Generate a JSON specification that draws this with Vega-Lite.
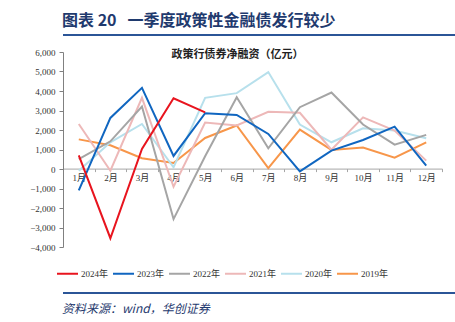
{
  "$schema": "https://vega.github.io/schema/vega-lite/v6.json",
  "padding": {"left": 29, "top": 13, "right": 8, "bottom": 0},
  "background": "white",
  "config": {"view": {"stroke": null}, "font": "Liberation Serif"},
  "align": "none",
  "spacing": 12,
  "resolve": {"scale": {"color": "independent", "x": "independent", "y": "independent"}},
  "vconcat": [
    {
      "width": 414,
      "height": 2,
      "data": {"values": [{}]},
      "title": {"text": "图表\u00a020\u00a0\u00a0\u00a0一季度政策性金融债发行较少", "anchor": "start", "font": "Noto Sans CJK SC", "fontSize": 16, "fontWeight": "bold", "color": "#1F3A6E", "offset": 4},
      "mark": {"type": "rule", "color": "#2B5597", "strokeWidth": 2},
      "encoding": {"y": {"datum": 0, "type": "quantitative", "scale": {"domain": [0, 1]}, "axis": null}}
    },
    {
      "width": 379,
      "height": 195,
      "data": {"values": [
        {"年份": "2019年", "月份": "1月", "值": 1520},
        {"年份": "2019年", "月份": "2月", "值": 1220},
        {"年份": "2019年", "月份": "3月", "值": 550},
        {"年份": "2019年", "月份": "4月", "值": 310},
        {"年份": "2019年", "月份": "5月", "值": 1590},
        {"年份": "2019年", "月份": "6月", "值": 2230},
        {"年份": "2019年", "月份": "7月", "值": 50},
        {"年份": "2019年", "月份": "8月", "值": 2020},
        {"年份": "2019年", "月份": "9月", "值": 980},
        {"年份": "2019年", "月份": "10月", "值": 1100},
        {"年份": "2019年", "月份": "11月", "值": 580},
        {"年份": "2019年", "月份": "12月", "值": 1370},
        {"年份": "2020年", "月份": "1月", "值": -90},
        {"年份": "2020年", "月份": "2月", "值": 1370},
        {"年份": "2020年", "月份": "3月", "值": 2310},
        {"年份": "2020年", "月份": "4月", "值": 90},
        {"年份": "2020年", "月份": "5月", "值": 3650},
        {"年份": "2020年", "月份": "6月", "值": 3890},
        {"年份": "2020年", "月份": "7月", "值": 4970},
        {"年份": "2020年", "月份": "8月", "值": 2280},
        {"年份": "2020年", "月份": "9月", "值": 1370},
        {"年份": "2020年", "月份": "10月", "值": 2090},
        {"年份": "2020年", "月份": "11月", "值": 1970},
        {"年份": "2020年", "月份": "12月", "值": 1580},
        {"年份": "2021年", "月份": "1月", "值": 2310},
        {"年份": "2021年", "月份": "2月", "值": -90},
        {"年份": "2021年", "月份": "3月", "值": 3650},
        {"年份": "2021年", "月份": "4月", "值": -910},
        {"年份": "2021年", "月份": "5月", "值": 2380},
        {"年份": "2021年", "月份": "6月", "值": 2230},
        {"年份": "2021年", "月份": "7月", "值": 2930},
        {"年份": "2021年", "月份": "8月", "值": 2880},
        {"年份": "2021年", "月份": "9月", "值": 990},
        {"年份": "2021年", "月份": "10月", "值": 2650},
        {"年份": "2021年", "月份": "11月", "值": 1970},
        {"年份": "2021年", "月份": "12月", "值": 430},
        {"年份": "2022年", "月份": "1月", "值": 510},
        {"年份": "2022年", "月份": "2月", "值": 1420},
        {"年份": "2022年", "月份": "3月", "值": 3200},
        {"年份": "2022年", "月份": "4月", "值": -2570},
        {"年份": "2022年", "月份": "5月", "值": 650},
        {"年份": "2022年", "月份": "6月", "值": 3680},
        {"年份": "2022年", "月份": "7月", "值": 1060},
        {"年份": "2022年", "月份": "8月", "值": 3170},
        {"年份": "2022年", "月份": "9月", "值": 3920},
        {"年份": "2022年", "月份": "10月", "值": 2280},
        {"年份": "2022年", "月份": "11月", "值": 1250},
        {"年份": "2022年", "月份": "12月", "值": 1750},
        {"年份": "2023年", "月份": "1月", "值": -1100},
        {"年份": "2023年", "月份": "2月", "值": 2620},
        {"年份": "2023年", "月份": "3月", "值": 4160},
        {"年份": "2023年", "月份": "4月", "值": 670},
        {"年份": "2023年", "月份": "5月", "值": 2860},
        {"年份": "2023年", "月份": "6月", "值": 2770},
        {"年份": "2023年", "月份": "7月", "值": 1800},
        {"年份": "2023年", "月份": "8月", "值": -120},
        {"年份": "2023年", "月份": "9月", "值": 940},
        {"年份": "2023年", "月份": "10月", "值": 1490},
        {"年份": "2023年", "月份": "11月", "值": 2170},
        {"年份": "2023年", "月份": "12月", "值": 170},
        {"年份": "2024年", "月份": "1月", "值": 700},
        {"年份": "2024年", "月份": "2月", "值": -3550},
        {"年份": "2024年", "月份": "3月", "值": 1030},
        {"年份": "2024年", "月份": "4月", "值": 3630},
        {"年份": "2024年", "月份": "5月", "值": 2900}
      ]},
      "title": {"text": "政策行债券净融资（亿元）", "font": "Noto Sans CJK SC", "fontSize": 11, "fontWeight": "bold", "color": "#222222", "offset": -12, "dx": -15},
      "mark": {"type": "line", "strokeWidth": 2},
      "encoding": {
        "x": {
          "field": "月份", "type": "ordinal",
          "sort": ["1月", "2月", "3月", "4月", "5月", "6月", "7月", "8月", "9月", "10月", "11月", "12月"],
          "scale": {"type": "band", "paddingInner": 0, "paddingOuter": 0},
          "axis": {"title": null, "labelAngle": 0, "tickBand": "extent", "offset": -78.4, "domainColor": "#A6A6A6", "tickColor": "#A6A6A6", "tickSize": 3, "labelFont": "Liberation Serif, Noto Sans CJK SC", "labelFontSize": 9, "labelColor": "#333333", "labelPadding": 2}
        },
        "y": {
          "field": "值", "type": "quantitative",
          "scale": {"domain": [-4000, 6000], "nice": false, "zero": false},
          "axis": {"title": null, "values": [-4000, -3000, -2000, -1000, 0, 1000, 2000, 3000, 4000, 5000, 6000], "format": ",.0f", "grid": false, "tickSize": 4, "domainColor": "#808080", "tickColor": "#808080", "labelFont": "Liberation Serif", "labelFontSize": 9, "labelColor": "#333333", "labelPadding": 4}
        },
        "color": {
          "field": "年份", "type": "nominal",
          "scale": {"domain": ["2024年", "2023年", "2022年", "2021年", "2020年", "2019年"], "range": ["#E8141E", "#1066C0", "#A5A5A5", "#EDB8B8", "#B7E0EC", "#F7964A"]},
          "legend": {"title": null, "orient": "none", "legendX": -7, "legendY": 210, "direction": "horizontal", "symbolType": "stroke", "symbolSize": 441, "symbolStrokeWidth": 2, "labelFont": "Liberation Serif, Noto Sans CJK SC", "labelFontSize": 9, "labelColor": "#333333", "labelOffset": 2, "columnPadding": 0}
        }
      }
    },
    {
      "width": 414,
      "height": 2,
      "data": {"values": [{}]},
      "title": {"text": "资料来源：wind，华创证券", "orient": "bottom", "anchor": "start", "font": "Noto Sans CJK SC", "fontSize": 12, "fontStyle": "italic", "fontWeight": "normal", "color": "#1F3A6E", "offset": 10},
      "mark": {"type": "rule", "color": "#2B5597", "strokeWidth": 2},
      "encoding": {"y": {"datum": 0, "type": "quantitative", "scale": {"domain": [0, 1]}, "axis": null}}
    }
  ]
}
